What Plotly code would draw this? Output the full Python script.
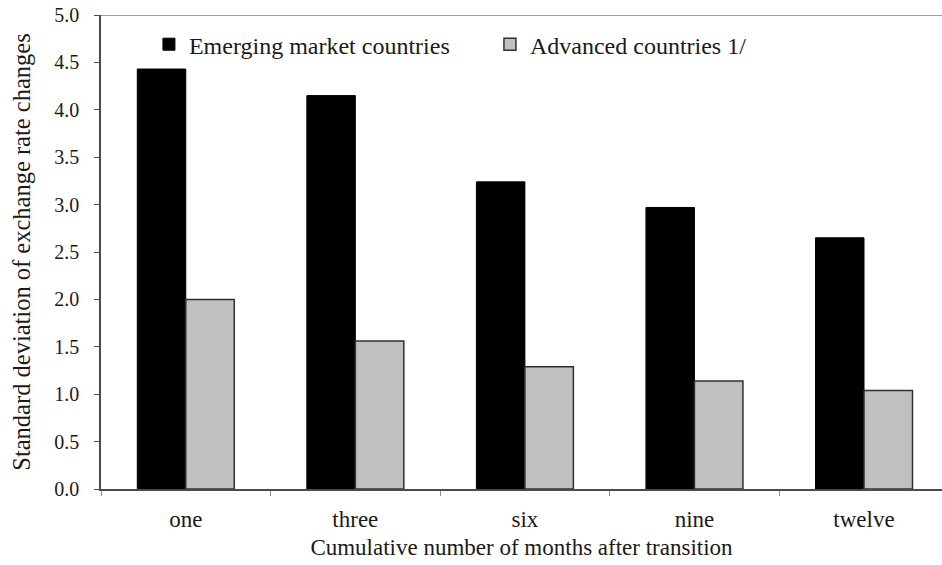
import plotly.graph_objects as go

# Chart data
categories = ["one", "three", "six", "nine", "twelve"]
emerging = [4.43, 4.15, 3.24, 2.97, 2.65]
advanced = [2.00, 1.56, 1.29, 1.14, 1.04]
y_ticks = [0.0, 0.5, 1.0, 1.5, 2.0, 2.5, 3.0, 3.5, 4.0, 4.5, 5.0]

FONT = "Liberation Serif, Times New Roman, serif"
AXIS_COLOR = "#4a4a4a"

fig = go.Figure()
fig.add_trace(go.Bar(
    x=categories, y=emerging, name="Emerging market countries",
    marker=dict(color="#000000", line=dict(color="#000000", width=1)),
))
fig.add_trace(go.Bar(
    x=categories, y=advanced, name="Advanced countries 1/",
    marker=dict(color="#c0c0c0", line=dict(color="#303030", width=1.5)),
))

# thin grey frame line along the top of the plot area
fig.add_shape(type="line", xref="x domain", yref="y", x0=0, x1=1, y0=5, y1=5,
              line=dict(color="#a0a0a0", width=2))

fig.update_layout(
    width=942, height=565,
    margin=dict(l=101, r=0, t=15, b=76),
    paper_bgcolor="white", plot_bgcolor="white",
    barmode="group", bargap=0.428, bargroupgap=0,
    font=dict(family=FONT, color="#1a1a1a"),
    showlegend=True,
    legend=dict(
        orientation="h", x=0.057, y=0.985, xanchor="left", yanchor="top",
        font=dict(family=FONT, size=24, color="#1a1a1a"),
        bgcolor="rgba(0,0,0,0)", entrywidth=296, entrywidthmode="pixels",
        traceorder="normal",
    ),
    xaxis=dict(
        range=[-0.5, 4.46], showline=True, linecolor=AXIS_COLOR, linewidth=1.5,
        ticks="outside", tickson="boundaries", ticklen=5, tickcolor="#909090",
        tickfont=dict(family=FONT, size=23, color="#1a1a1a"),
        ticklabelstandoff=9,
        title=dict(text="Cumulative number of months after transition",
                   font=dict(family=FONT, size=23, color="#1a1a1a"), standoff=8),
        showgrid=False, zeroline=False,
    ),
    yaxis=dict(
        range=[0, 5.0], tickvals=y_ticks, ticktext=[f"{v:.1f}" for v in y_ticks],
        showline=True, linecolor=AXIS_COLOR, linewidth=1.5,
        ticks="outside", ticklen=5, tickcolor=AXIS_COLOR,
        tickfont=dict(family=FONT, size=20, color="#1a1a1a"),
        ticklabelstandoff=11,
        title=dict(text="Standard deviation of exchange rate changes",
                   font=dict(family=FONT, size=24.5, color="#1a1a1a"), standoff=17),
        showgrid=False, zeroline=False,
    ),
)

fig.write_html("out.html")
